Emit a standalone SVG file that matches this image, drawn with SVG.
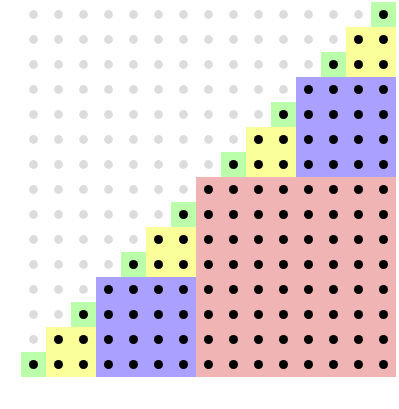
<svg xmlns="http://www.w3.org/2000/svg" width="399" height="409" viewBox="0 0 399 409">
  <style>
    .g { fill: #bbffaa; }
    .y { fill: #faff9a; }
    .b { fill: #aaa0ff; }
    .p { fill: #f1b4b4; }
  </style>
  <defs>
    <pattern id="greyDots" patternUnits="userSpaceOnUse" x="21" y="2" width="25" height="25">
      <circle cx="12.5" cy="12.5" r="4.4" fill="#dcdcdc"/>
    </pattern>
    <pattern id="blackDots" patternUnits="userSpaceOnUse" x="21" y="2" width="25" height="25">
      <circle cx="12.5" cy="12.5" r="4.5" fill="#000"/>
    </pattern>
  </defs>
  <rect width="399" height="409" fill="#fff"/>
  <g id="grey-dots">
    <path fill="url(#greyDots)" d="M21,2 H371 V27 H346 V52 H321 V77 H296 V102 H271 V127 H246 V152 H221 V177 H196 V202 H171 V227 H146 V252 H121 V277 H96 V302 H71 V327 H46 V352 H21 Z"/>
  </g>
  <g id="pink">
    <rect class="p" x="196" y="177" width="200" height="200"/>
  </g>
  <g id="blue">
    <rect class="b" x="96" y="277" width="100" height="100"/>
    <rect class="b" x="296" y="77" width="100" height="100"/>
  </g>
  <g id="yellow">
    <rect class="y" x="46" y="327" width="50" height="50"/>
    <rect class="y" x="146" y="227" width="50" height="50"/>
    <rect class="y" x="246" y="127" width="50" height="50"/>
    <rect class="y" x="346" y="27" width="50" height="50"/>
  </g>
  <g id="green">
    <rect class="g" x="21" y="352" width="25" height="25"/>
    <rect class="g" x="71" y="302" width="25" height="25"/>
    <rect class="g" x="121" y="252" width="25" height="25"/>
    <rect class="g" x="171" y="202" width="25" height="25"/>
    <rect class="g" x="221" y="152" width="25" height="25"/>
    <rect class="g" x="271" y="102" width="25" height="25"/>
    <rect class="g" x="321" y="52" width="25" height="25"/>
    <rect class="g" x="371" y="2" width="25" height="25"/>
  </g>
  <g id="black-dots">
    <path fill="url(#blackDots)" d="M371,2 H396 V377 H21 V352 H46 V327 H71 V302 H96 V277 H121 V252 H146 V227 H171 V202 H196 V177 H221 V152 H246 V127 H271 V102 H296 V77 H321 V52 H346 V27 H371 Z"/>
  </g>
</svg>
